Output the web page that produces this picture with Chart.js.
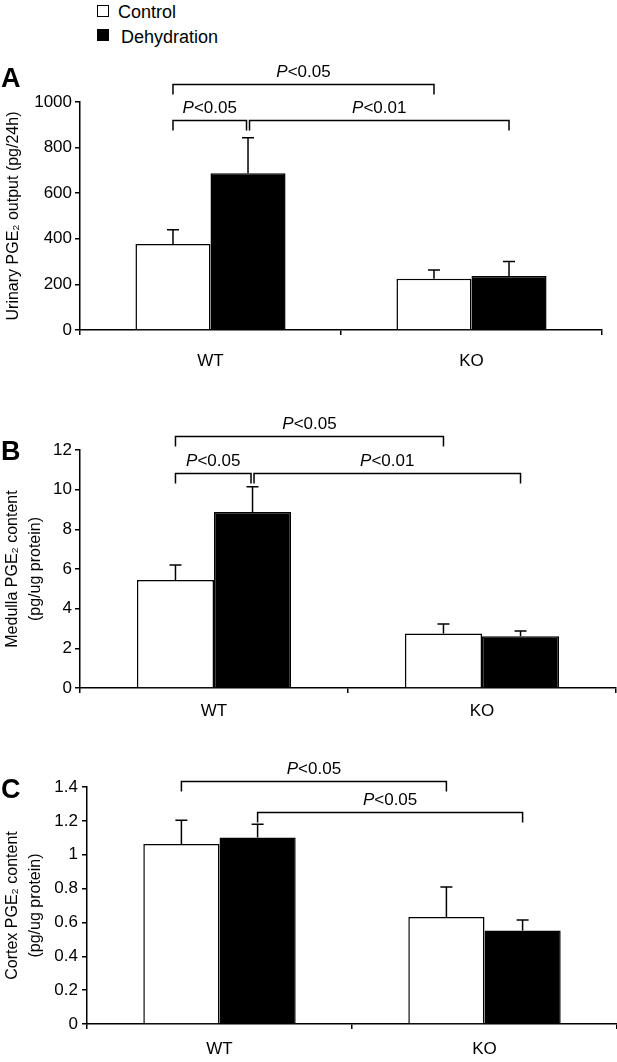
<!DOCTYPE html>
<html>
<head>
<meta charset="utf-8">
<script src="https://cdn.jsdelivr.net/npm/chart.js@4/dist/chart.umd.min.js"></script>
<style>
  body { margin: 0; background: #fff; font-family: 'Liberation Sans', Arial, sans-serif; }
  #page { position: relative; width: 617px; height: 1062px; overflow: hidden; }
  canvas { position: absolute; left: 0; }
  .lbl { position: absolute; color: #000; white-space: nowrap; }
  .panel { font-size: 27px; font-weight: bold; line-height: 27px; left: 1px; }
  .leg { font-size: 18px; line-height: 18px; }
  .box { position: absolute; width: 10px; height: 10px; border: 1.5px solid #000; }
</style>
</head>
<body>
<div id="page">
  <div class="box" style="left:97px; top:5px; background:#fff;"></div>
  <div class="lbl leg" style="left:118px; top:3px;">Control</div>
  <div class="box" style="left:97px; top:29px; background:#000;"></div>
  <div class="lbl leg" style="left:121px; top:28px;">Dehydration</div>

  <canvas id="chartA" width="617" height="340" style="top:40px;"></canvas>
  <canvas id="chartB" width="617" height="338" style="top:400px;"></canvas>
  <canvas id="chartC" width="617" height="322" style="top:740px;"></canvas>

  <div class="lbl panel" style="top:65px;">A</div>
  <div class="lbl panel" style="top:438px;">B</div>
  <div class="lbl panel" style="top:776px;">C</div>
</div>

<script>
const groups = ['WT', 'KO'];

// A: urinary PGE2 output (pg/24h)
const urineControl = [377, 225];
const urineControlErr = [63, 38];
const urineDehyd = [687, 237];
const urineDehydErr = [156, 63];
const urineTicks = [0, 200, 400, 600, 800, 1000];

// B: medulla PGE2 content (pg/ug protein)
const medullaControl = [5.45, 2.75];
const medullaControlErr = [0.75, 0.48];
const medullaDehyd = [8.87, 2.61];
const medullaDehydErr = [1.28, 0.27];
const medullaTicks = [0, 2, 4, 6, 8, 10, 12];

// C: cortex PGE2 content (pg/ug protein)
const cortexControl = [1.063, 0.632];
const cortexControlErr = [0.14, 0.177];
const cortexDehyd = [1.102, 0.553];
const cortexDehydErr = [0.078, 0.061];
const cortexTicks = [0, 0.2, 0.4, 0.6, 0.8, 1, 1.2, 1.4];

const FONT = "'Liberation Sans', Arial, sans-serif";

// error bars (upward only) and significance brackets
const sigPlugin = {
    id: 'sig',
    afterDatasetsDraw(chart, args, opts) {
        const ctx = chart.ctx;
        const y = chart.scales.y;
        ctx.save();
        ctx.strokeStyle = '#000';
        ctx.fillStyle = '#000';
        ctx.lineWidth = 1.5;

        opts.errors.forEach((errs, d) => {
            const meta = chart.getDatasetMeta(d);
            const vals = chart.data.datasets[d].data;
            meta.data.forEach((bar, i) => {
                const top = y.getPixelForValue(vals[i] + errs[i]);
                ctx.beginPath();
                ctx.moveTo(bar.x, bar.y);
                ctx.lineTo(bar.x, top);
                ctx.moveTo(bar.x - 6, top);
                ctx.lineTo(bar.x + 6, top);
                ctx.stroke();
            });
        });

        opts.brackets.forEach(b => {
            const xa = chart.getDatasetMeta(b.from[0]).data[b.from[1]].x + (b.dxFrom || 0);
            const xb = chart.getDatasetMeta(b.to[0]).data[b.to[1]].x + (b.dxTo || 0);
            const yy = Math.round(y.getPixelForValue(b.level)) + 0.5;
            ctx.beginPath();
            ctx.moveTo(xa, yy + 10);
            ctx.lineTo(xa, yy);
            ctx.lineTo(xb, yy);
            ctx.lineTo(xb, yy + 10);
            ctx.stroke();

            const italic = 'italic 17px ' + FONT;
            const normal = '17px ' + FONT;
            ctx.font = italic;
            const wP = ctx.measureText('P').width;
            ctx.font = normal;
            const wRest = ctx.measureText(b.label).width;
            const x0 = (xa + xb) / 2 - (wP + wRest) / 2;
            ctx.textBaseline = 'alphabetic';
            ctx.textAlign = 'left';
            ctx.font = italic;
            ctx.fillText('P', x0, yy - 8);
            ctx.font = normal;
            ctx.fillText(b.label, x0 + wP, yy - 8);
        });
        ctx.restore();
    }
};

function makePanel(id, p) {
    new Chart(document.getElementById(id), {
        type: 'bar',
        data: {
            labels: groups,
            datasets: [{
                label: 'Control',
                data: p.control,
                backgroundColor: '#fff',
                borderColor: '#000',
                borderWidth: 1.5
            }, {
                label: 'Dehydration',
                data: p.dehyd,
                backgroundColor: '#000',
                borderColor: '#000',
                borderWidth: 1.5
            }]
        },
        options: {
            responsive: false,
            animation: false,
            categoryPercentage: 0.575,
            barPercentage: 1,
            layout: { padding: { top: p.padTop, right: p.padRight, left: 0, bottom: 0 } },
            plugins: {
                legend: { display: false },
                tooltip: { enabled: false },
                sig: { errors: p.errors, brackets: p.brackets }
            },
            scales: {
                x: {
                    grid: { drawOnChartArea: false, tickLength: 5, color: '#000', lineWidth: 1.5, offset: true },
                    border: { color: '#000', width: 1.5 },
                    ticks: { color: '#000', padding: p.xPad, font: { family: FONT, size: 17 } },
                    afterFit(s) { s.height = p.xHeight; }
                },
                y: {
                    min: 0,
                    max: p.ticks[p.ticks.length - 1],
                    afterBuildTicks(s) { s.ticks = p.ticks.map(v => ({ value: v })); },
                    grid: { drawOnChartArea: false, tickLength: 5, color: '#000', lineWidth: 1.5 },
                    border: { color: '#000', width: 1.5 },
                    ticks: {
                        color: '#000',
                        padding: p.yPad,
                        font: { family: FONT, size: 17 },
                        callback: v => String(v)
                    },
                    title: {
                        display: true,
                        text: p.title,
                        color: '#000',
                        font: { family: FONT, size: 16, lineHeight: p.titleLH },
                        padding: { top: p.titlePad, bottom: 0 }
                    },
                    afterFit(s) { s.width = p.yWidth; }
                }
            }
        },
        plugins: [sigPlugin]
    });
}

makePanel('chartA', {
    control: urineControl, dehyd: urineDehyd,
    errors: [urineControlErr, urineDehydErr],
    ticks: urineTicks,
    title: 'Urinary PGE\u2082 output (pg/24h)', titleLH: 1.2, titlePad: 4,
    padTop: 62, padRight: 15, xHeight: 50, xPad: 16, yPad: 3, yWidth: 80,
    brackets: [
        { from: [0, 0], to: [0, 1], level: 1079, label: '<0.05' },
        { from: [0, 0], to: [1, 0], level: 921, label: '<0.05', dxTo: -1.5 },
        { from: [1, 0], to: [1, 1], level: 921, label: '<0.01', dxFrom: 1.5 }
    ]
});

makePanel('chartB', {
    control: medullaControl, dehyd: medullaDehyd,
    errors: [medullaControlErr, medullaDehydErr],
    ticks: medullaTicks,
    title: ['Medulla PGE\u2082 content', '(pg/ug protein)'], titleLH: 1.44, titlePad: 1,
    padTop: 50, padRight: 1, xHeight: 50, xPad: 8, yPad: 3, yWidth: 80,
    brackets: [
        { from: [0, 0], to: [0, 1], level: 12.73, label: '<0.05' },
        { from: [0, 0], to: [1, 0], level: 10.86, label: '<0.05', dxTo: -1.5 },
        { from: [1, 0], to: [1, 1], level: 10.86, label: '<0.01', dxFrom: 1.5 }
    ]
});

makePanel('chartC', {
    control: cortexControl, dehyd: cortexDehyd,
    errors: [cortexControlErr, cortexDehydErr],
    ticks: cortexTicks,
    title: ['Cortex PGE\u2082 content', '(pg/ug protein)'], titleLH: 1.44, titlePad: 1,
    padTop: 47, padRight: 0, xHeight: 38, xPad: 10, yPad: 4, yWidth: 87,
    brackets: [
        { from: [0, 0], to: [0, 1], level: 1.433, label: '<0.05' },
        { from: [1, 0], to: [1, 1], level: 1.252, label: '<0.05' }
    ]
});
</script>
</body>
</html>
